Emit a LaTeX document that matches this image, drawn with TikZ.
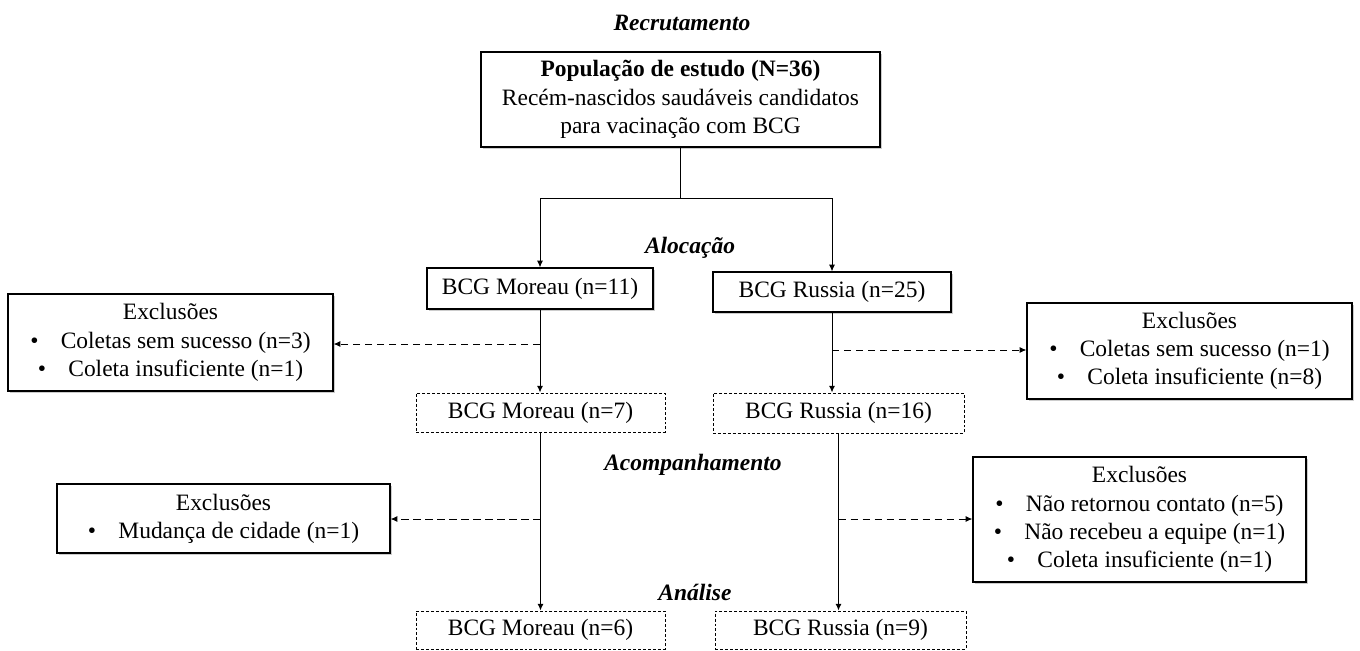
\documentclass[tikz,border=0pt]{standalone}
\usepackage{fontspec}
\setmainfont{Liberation Serif}
\usetikzlibrary{arrows.meta,shadows}
\begin{document}
\begin{tikzpicture}[x=0.75pt,y=-0.75pt,
  font=\fontsize{17.6}{21.2}\selectfont,
  solidbox/.style={draw,line width=0.9pt,fill=white,inner sep=0pt,align=center,
    drop shadow={shadow xshift=1.8pt,shadow yshift=-1.8pt,fill=gray,opacity=0.4}},
  dashbox/.style={draw,line width=0.75pt,dash pattern=on 2.2pt off 1.5pt,fill=white,inner sep=0pt,align=center},
  arr/.style={line width=0.75pt,-{Latex[length=5pt,width=4.5pt]}},
  darr/.style={line width=0.75pt,dash pattern=on 5.5pt off 3.5pt,-{Latex[length=5pt,width=4.5pt]}},
  stage/.style={font=\fontsize{17.6}{21.2}\selectfont\bfseries\itshape}]
\useasboundingbox (0,0) rectangle (1360,650);

\node[stage] (lrec) at (682,23) {Recrutamento};
\node[stage] (laloc) at (690,248) {Alocação};
\node[stage] (lacomp) at (693,465) {Acompanhamento};
\node[stage] (lana) at (695,592) {Análise};

\node[solidbox,minimum width=399*0.75pt,minimum height=95*0.75pt] (top) at (680.5,99.5)
  {\textbf{População de estudo (N=36)}\\Recém-nascidos saudáveis candidatos\\para vacinação com BCG};

\node[solidbox,minimum width=226*0.75pt,minimum height=41*0.75pt] (m11) at (540,288.5) {BCG Moreau (n=11)};
\node[solidbox,minimum width=238*0.75pt,minimum height=40*0.75pt] (r25) at (832,292) {BCG Russia (n=25)};

\node[dashbox,minimum width=249*0.75pt,minimum height=39*0.75pt] (m7) at (540.5,412.5) {BCG Moreau (n=7)};
\node[dashbox,minimum width=251*0.75pt,minimum height=40*0.75pt] (r16) at (838.5,413) {BCG Russia (n=16)};

\node[dashbox,minimum width=249*0.75pt,minimum height=38*0.75pt] (m6) at (540.5,630) {BCG Moreau (n=6)};
\node[dashbox,minimum width=251*0.75pt,minimum height=38*0.75pt] (r9) at (840.5,630) {BCG Russia (n=9)};

\node[solidbox,minimum width=325*0.75pt,minimum height=97*0.75pt] (e1) at (170.5,342.5)
  {Exclusões\\•\hspace{0.95em}Coletas sem sucesso (n=3)\\•\hspace{0.95em}Coleta insuficiente (n=1)};
\node[solidbox,minimum width=325*0.75pt,minimum height=96*0.75pt] (e2) at (1189.5,351)
  {Exclusões\\•\hspace{0.95em}Coletas sem sucesso (n=1)\\•\hspace{0.95em}Coleta insuficiente (n=8)};
\node[solidbox,minimum width=333*0.75pt,minimum height=69*0.75pt] (e3) at (223.5,518.5)
  {Exclusões\\•\hspace{0.95em}Mudança de cidade (n=1)};
\node[solidbox,minimum width=333*0.75pt,minimum height=125*0.75pt] (e4) at (1139.5,519.5)
  {Exclusões\\•\hspace{0.95em}Não retornou contato (n=5)\\•\hspace{0.95em}Não recebeu a equipe (n=1)\\•\hspace{0.95em}Coleta insuficiente (n=1)};

% top split
\coordinate (j) at (680.5,198);
\draw[line width=0.75pt] (top.south) -- (j);
\draw[line width=0.75pt] (m11.north |- j) -- (r25.north |- j);
\draw[arr] (m11.north |- j) -- (m11.north);
\draw[arr] (r25.north |- j) -- (r25.north);

% vertical flows
\draw[arr] (m11.south) -- (m11.south |- m7.north);
\draw[arr] (r25.south) -- (r25.south |- r16.north);
\draw[arr] (m7.south) -- (m7.south |- m6.north);
\draw[arr] (r16.south) -- (r16.south |- r9.north);

% exclusion arrows
\coordinate (d1) at (540,344);
\coordinate (d2) at (832,350);
\coordinate (d3) at (540.5,519);
\coordinate (d4) at (838.5,519);
\draw[darr] (d1) -- (e1.east |- d1);
\draw[darr] (d2) -- (e2.west |- d2);
\draw[darr] (d3) -- (e3.east |- d3);
\draw[darr] (d4) -- (e4.west |- d4);
\end{tikzpicture}
\end{document}
